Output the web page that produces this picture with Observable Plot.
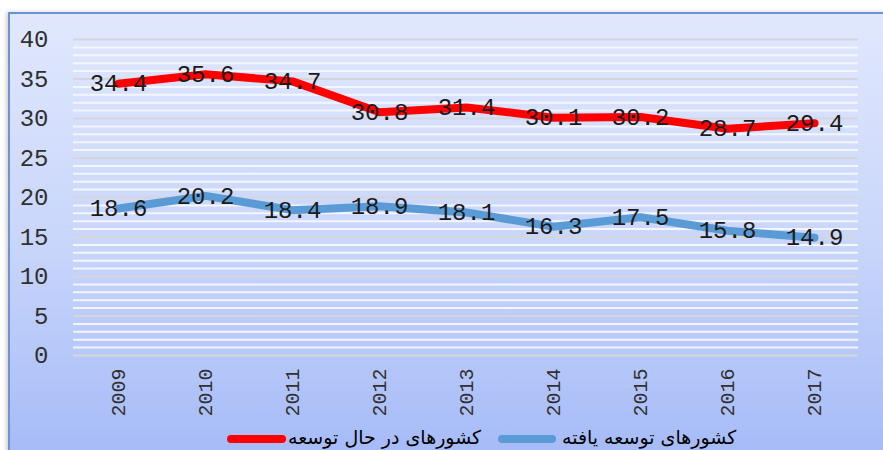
<!DOCTYPE html>
<html>
<head>
<meta charset="utf-8">
<script src="https://cdn.jsdelivr.net/npm/d3@7"></script>
<script src="https://cdn.jsdelivr.net/npm/@observablehq/plot@0.6"></script>
<style>
  html, body { margin: 0; padding: 0; background: #ffffff; width: 883px; height: 450px; overflow: hidden; }
  #frame {
    position: absolute; left: 8px; top: 12px; width: 890px; height: 460px;
    border: 2px solid #6f92d6;
    background: linear-gradient(to bottom, #e1e8fd 0%, #c9d6fb 50%, #a3b9f7 100%);
    box-shadow: -2px 0 4px rgba(0,0,0,0.18);
    box-sizing: border-box;
  }
  #chart { position: absolute; left: 0; top: 0; }
  .sw { position: absolute; height: 8px; border-radius: 4px; }
  .lt { position: absolute; font-family: "DejaVu Sans", sans-serif; font-size: 19px; color: #000; direction: rtl; white-space: nowrap; line-height: 22px; }
</style>
</head>
<body>
<div id="frame">
  <div id="chart"></div>
</div>
<script>
const years = ["2009","2010","2011","2012","2013","2014","2015","2016","2017"];
const developing = [34.4, 35.6, 34.7, 30.8, 31.4, 30.1, 30.2, 28.7, 29.4];
const developed = [18.6, 20.2, 18.4, 18.9, 18.1, 16.3, 17.5, 15.8, 14.9];
const seriesNames = ["کشورهای در حال توسعه", "کشورهای توسعه یافته"];
const seriesColors = ["#ff0000", "#5b9bd5"];
const yTicks = [0, 5, 10, 15, 20, 25, 30, 35, 40];
const gridLines = d3.range(0, 41);

const rows = [];
years.forEach((y, i) => {
  rows.push({year: y, value: developing[i], series: seriesNames[0]});
  rows.push({year: y, value: developed[i], series: seriesNames[1]});
});

const mono = "'Liberation Mono', monospace";

const chart = Plot.plot({
  width: 874,
  height: 410,
  marginLeft: 63,
  marginRight: 26,
  marginTop: 25,
  marginBottom: 69,
  style: {background: "transparent", overflow: "visible", color: "#303030"},
  x: {type: "point", domain: years, padding: 0.5, label: null},
  y: {domain: [0, 40], label: null},
  color: {domain: seriesNames, range: seriesColors},
  marks: [
    Plot.ruleY(gridLines.filter(d => d % 5 !== 0), {stroke: "#f4f6fd", strokeWidth: 2}),
    Plot.ruleY(gridLines.filter(d => d % 5 === 0), {stroke: "#d4d6dc", strokeWidth: 2}),
    Plot.axisY({ticks: yTicks, tickSize: 0, tickPadding: 25, fontSize: 24, fontFamily: mono, label: null}),
    Plot.axisX({tickSize: 0, tickPadding: 13, tickRotate: -90, fontSize: 20, fontFamily: mono, label: null}),
    Plot.lineY(rows.filter(d => d.series === seriesNames[1]), {x: "year", y: "value", stroke: seriesColors[1], strokeWidth: 8, strokeLinecap: "round", strokeLinejoin: "round"}),
    Plot.lineY(rows.filter(d => d.series === seriesNames[0]), {x: "year", y: "value", stroke: seriesColors[0], strokeWidth: 8, strokeLinecap: "round", strokeLinejoin: "round"}),
    Plot.text(rows, {x: "year", y: "value", text: d => d.value.toFixed(1), fill: "#1a1a1a", fontSize: 24, fontFamily: mono, textAnchor: "middle", lineAnchor: "middle"})
  ]
});
document.getElementById("chart").appendChild(chart);

// legend (positions relative to frame content box)
const frame = document.getElementById("frame");
const legendItems = [
  {name: seriesNames[0], color: seriesColors[0], swLeft: 217, swWidth: 59, txtLeft: 278},
  {name: seriesNames[1], color: seriesColors[1], swLeft: 488, swWidth: 58, txtLeft: 552}
];
legendItems.forEach(it => {
  const sw = document.createElement("div");
  sw.className = "sw";
  sw.style.left = it.swLeft + "px";
  sw.style.top = "421px";
  sw.style.width = it.swWidth + "px";
  sw.style.background = it.color;
  frame.appendChild(sw);
  const t = document.createElement("div");
  t.className = "lt";
  t.style.left = it.txtLeft + "px";
  t.style.top = "412px";
  t.textContent = it.name;
  frame.appendChild(t);
});
</script>
</body>
</html>
